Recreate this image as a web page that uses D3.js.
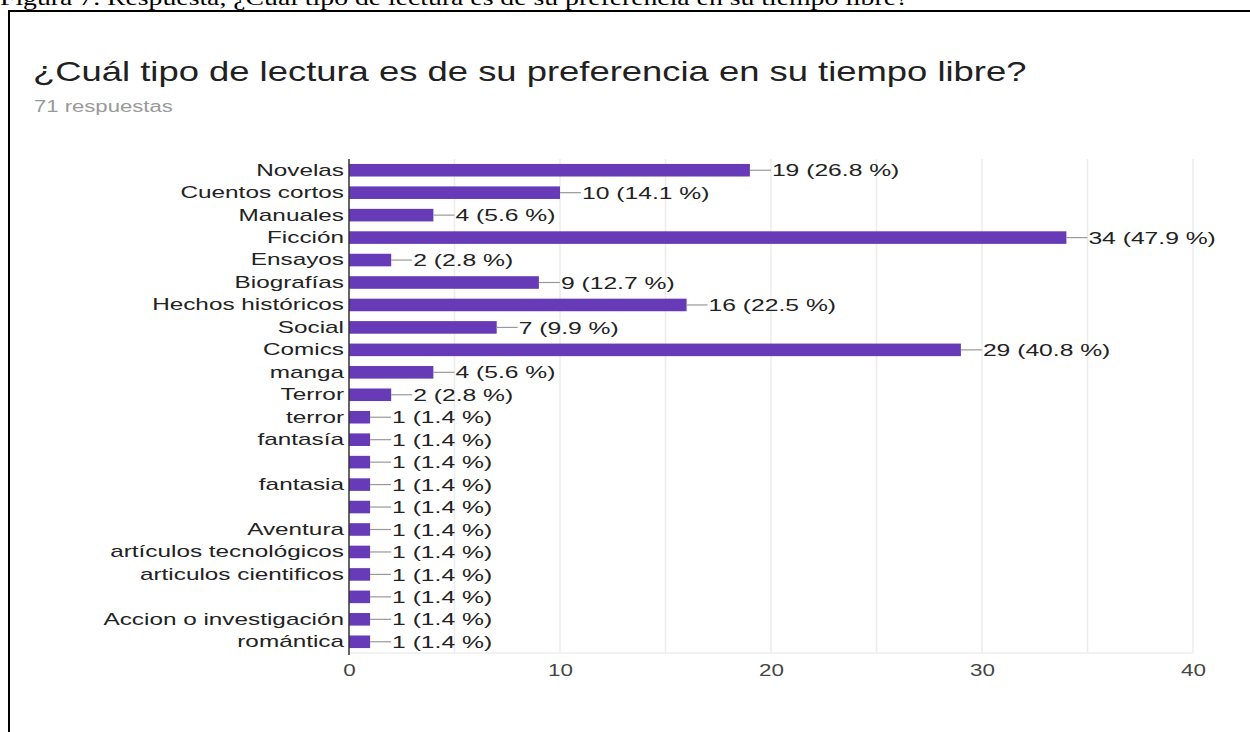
<!DOCTYPE html>
<html>
<head>
<meta charset="utf-8">
<script src="https://cdn.jsdelivr.net/npm/d3@7"></script>
<style>
  body { margin: 0; background: #fff; }
  svg { display: block; }
</style>
</head>
<body>
<div class="canvas"></div>
<script>
// data
const categories = ['Novelas', 'Cuentos cortos', 'Manuales', 'Ficción', 'Ensayos', 'Biografías',
    'Hechos históricos', 'Social', 'Comics', 'manga', 'Terror', 'terror', 'fantasía', '',
    'fantasia', '', 'Aventura', 'artículos tecnológicos', 'articulos cientificos', '',
    'Accion o investigación', 'romántica']
const counts = [19, 10, 4, 34, 2, 9, 16, 7, 29, 4, 2, 1, 1, 1, 1, 1, 1, 1, 1, 1, 1, 1]
const percents = [26.8, 14.1, 5.6, 47.9, 2.8, 12.7, 22.5, 9.9, 40.8, 5.6, 2.8, 1.4, 1.4, 1.4,
    1.4, 1.4, 1.4, 1.4, 1.4, 1.4, 1.4, 1.4]
const xTicks = [0, 10, 20, 30, 40]
const gridTicks = [5, 10, 15, 20, 25, 30, 35, 40]

const rows = categories.map((c, i) => ({ key: i, name: c, value: counts[i], pct: percents[i] }))

const width = 1250
const height = 732
const font = 'Liberation Sans, Arial, sans-serif'

const svg = d3.select('.canvas').append('svg').attr('width', width).attr('height', height)

// the screenshot is stretched sideways, so widen each text to match
const stretch = (sel, k) => sel.each(function () {
    const w = this.getComputedTextLength()
    if (w > 0) d3.select(this).attr('textLength', w * k).attr('lengthAdjust', 'spacingAndGlyphs')
})

// caption of the figure, cut by the top edge
svg.append('text')
    .attr('x', 0).attr('y', 5)
    .attr('font-family', 'Liberation Serif, Times New Roman, serif')
    .attr('font-size', 21)
    .attr('fill', '#000')
    .text('Figura 7. Respuesta, ¿Cuál tipo de lectura es de su preferencia en su tiempo libre?')
    .call(stretch, 1.32)

// frame
svg.append('path')
    .attr('d', `M9,${height + 5} V11 H${width + 5}`)
    .attr('fill', 'none')
    .attr('stroke', '#000')
    .attr('stroke-width', 2)

svg.append('text')
    .attr('x', 33).attr('y', 81)
    .attr('font-family', font)
    .attr('font-size', 28)
    .attr('fill', '#212121')
    .text('¿Cuál tipo de lectura es de su preferencia en su tiempo libre?')
    .call(stretch, 1.3)

svg.append('text')
    .attr('x', 34).attr('y', 112)
    .attr('font-family', font)
    .attr('font-size', 16)
    .attr('fill', '#999')
    .text('71 respuestas')
    .call(stretch, 1.38)

const margins = { top: 159, left: 349, right: 57, bottom: 79 }
const gWidth = width - margins.left - margins.right
const gHeight = height - margins.top - margins.bottom

const graph = svg.append('g').attr('transform', `translate(${margins.left}, ${margins.top})`)

const x = d3.scaleLinear().domain([0, 40]).range([0, gWidth])
const y = d3.scaleBand()
    .domain(rows.map(d => d.key))
    .range([0, gHeight])
    .paddingInner(0.44)
    .paddingOuter(0.22)

// gridlines
graph.append('g')
    .selectAll('line')
    .data(gridTicks)
    .enter()
    .append('line')
    .attr('x1', d => x(d)).attr('x2', d => x(d))
    .attr('y1', 0).attr('y2', gHeight)
    .attr('stroke', '#ececec')
    .attr('stroke-width', 1.5)

graph.append('line')
    .attr('x1', 0).attr('x2', gWidth)
    .attr('y1', gHeight).attr('y2', gHeight)
    .attr('stroke', '#eeeeee')
    .attr('stroke-width', 1.5)

// bars
graph.selectAll('rect.bar')
    .data(rows)
    .enter()
    .append('rect')
    .attr('class', 'bar')
    .attr('x', 0)
    .attr('y', d => y(d.key))
    .attr('width', d => x(d.value))
    .attr('height', y.bandwidth())
    .attr('fill', '#673ab7')

// connector lines + value labels
const labels = graph.selectAll('g.lbl')
    .data(rows)
    .enter()
    .append('g')
    .attr('class', 'lbl')
    .attr('transform', d => `translate(${x(d.value)}, ${y(d.key) + y.bandwidth() / 2})`)

labels.append('line')
    .attr('x1', 0).attr('x2', 21)
    .attr('stroke', '#999')
    .attr('stroke-width', 1.2)

labels.append('text')
    .attr('x', 22)
    .attr('dy', '0.36em')
    .attr('font-family', font)
    .attr('font-size', 17)
    .attr('fill', '#222')
    .text(d => `${d.value} (${d.pct} %)`)
    .call(stretch, 1.45)

// category axis
const yAxis = d3.axisLeft(y).tickSize(0).tickPadding(5).tickFormat(k => categories[k])
const yAxisGroup = graph.append('g').call(yAxis)
yAxisGroup.select('.domain').remove()
yAxisGroup.selectAll('text')
    .attr('font-family', font)
    .attr('font-size', 17)
    .attr('fill', '#222')
    .call(stretch, 1.43)

graph.append('line')
    .attr('x1', 0).attr('x2', 0)
    .attr('y1', 0).attr('y2', gHeight + 2)
    .attr('stroke', '#333')
    .attr('stroke-width', 1.5)

// value axis
const xAxis = d3.axisBottom(x).tickValues(xTicks).tickSize(0).tickPadding(12)
const xAxisGroup = graph.append('g').attr('transform', `translate(0, ${gHeight})`).call(xAxis)
xAxisGroup.select('.domain').remove()
xAxisGroup.selectAll('text')
    .attr('font-family', font)
    .attr('font-size', 16)
    .attr('fill', '#444')
    .call(stretch, 1.4)
</script>
</body>
</html>
